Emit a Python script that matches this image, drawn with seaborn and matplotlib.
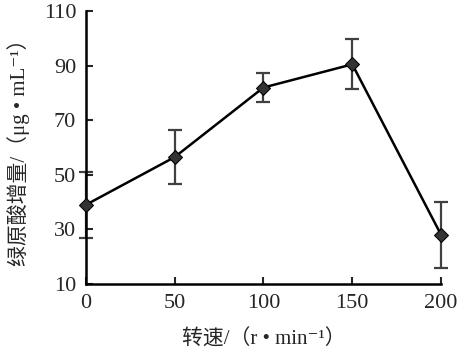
import numpy as np
import pandas as pd
import seaborn as sns
import matplotlib
matplotlib.use("Agg")
import matplotlib.pyplot as plt

# 转速 vs 绿原酸增量
speed = [0, 50, 100, 150, 200]
increase = [39.0, 56.5, 82.0, 90.5, 28.0]
error = [12.0, 9.8, 5.3, 9.2, 12.0]
x_ticks = [0, 50, 100, 150, 200]
y_ticks = [10, 30, 50, 70, 90, 110]


def set_config():
    sns.set_style("ticks")
    plt.rcParams["font.family"] = ["Liberation Serif", "Noto Sans CJK SC", "DejaVu Serif"]
    plt.rcParams["axes.unicode_minus"] = False


def main():
    set_config()
    df = pd.DataFrame({"speed": speed, "increase": increase, "err": error})

    fig = plt.figure(figsize=(4.59, 3.59), dpi=100)
    ax = fig.add_axes([0.187, 0.209, 0.774, 0.760])

    ax.errorbar(df["speed"], df["increase"], yerr=df["err"], fmt="none",
                ecolor="#404040", elinewidth=1.6, capsize=5, capthick=1.6,
                clip_on=False, zorder=2)
    sns.lineplot(data=df, x="speed", y="increase", ax=ax, color="black",
                 linewidth=1.8, marker="D", markersize=7,
                 markerfacecolor="#333333", markeredgecolor="black",
                 clip_on=False, zorder=3)

    ax.set_xlim(0, 200)
    ax.set_ylim(10, 110)
    ax.set_xticks(x_ticks)
    ax.set_yticks(y_ticks)
    ax.tick_params(direction="in", length=5, width=1.5, labelsize=16, pad=7)
    for s in ["top", "right"]:
        ax.spines[s].set_visible(False)
    for s in ["left", "bottom"]:
        ax.spines[s].set_linewidth(1.8)
        ax.spines[s].set_color("black")

    ax.set_xlabel("转速/（r • min⁻¹）", fontsize=15, labelpad=12)
    ax.set_ylabel("绿原酸增量/（μg • mL⁻¹）", fontsize=15, labelpad=10)

    fig.savefig("out.png", dpi=100)


if __name__ == "__main__":
    main()
